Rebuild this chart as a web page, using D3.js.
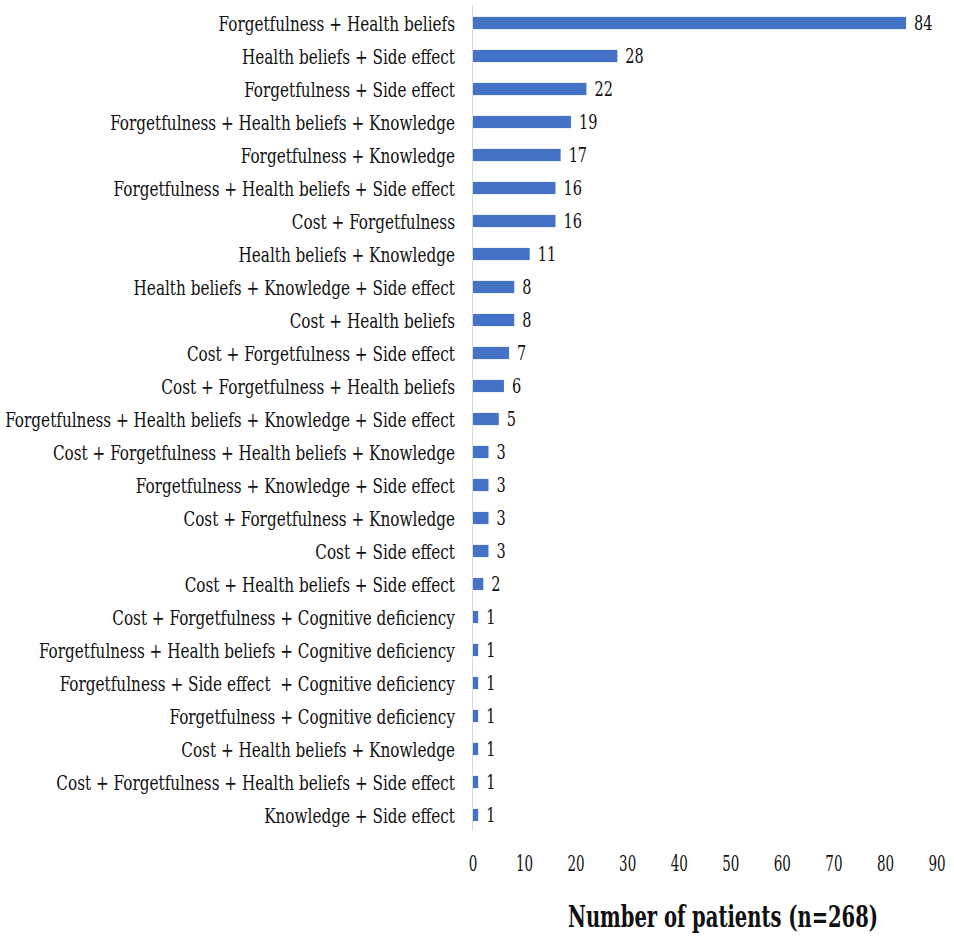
<!DOCTYPE html>
<html>
<head>
<meta charset="utf-8">
<script src="https://cdn.jsdelivr.net/npm/d3@7"></script>
<style>
  body { margin: 0; background: #fff; }
  text { font-family: "DejaVu Serif Condensed", "DejaVu Serif", serif; fill: #111; white-space: pre; }
</style>
</head>
<body>
<svg id="chart" width="954" height="939"></svg>
<script>
const categories = [
  'Forgetfulness + Health beliefs',
  'Health beliefs + Side effect',
  'Forgetfulness + Side effect',
  'Forgetfulness + Health beliefs + Knowledge',
  'Forgetfulness + Knowledge',
  'Forgetfulness + Health beliefs + Side effect',
  'Cost + Forgetfulness',
  'Health beliefs + Knowledge',
  'Health beliefs + Knowledge + Side effect',
  'Cost + Health beliefs',
  'Cost + Forgetfulness + Side effect',
  'Cost + Forgetfulness + Health beliefs',
  'Forgetfulness + Health beliefs + Knowledge + Side effect',
  'Cost + Forgetfulness + Health beliefs + Knowledge',
  'Forgetfulness + Knowledge + Side effect',
  'Cost + Forgetfulness + Knowledge',
  'Cost + Side effect',
  'Cost + Health beliefs + Side effect',
  'Cost + Forgetfulness + Cognitive deficiency',
  'Forgetfulness + Health beliefs + Cognitive deficiency',
  'Forgetfulness + Side effect  + Cognitive deficiency',
  'Forgetfulness + Cognitive deficiency',
  'Cost + Health beliefs + Knowledge',
  'Cost + Forgetfulness + Health beliefs + Side effect',
  'Knowledge + Side effect'
];
const patients = [84, 28, 22, 19, 17, 16, 16, 11, 8, 8, 7, 6, 5, 3, 3, 3, 3, 2, 1, 1, 1, 1, 1, 1, 1];
const xTicks = [0, 10, 20, 30, 40, 50, 60, 70, 80, 90];
const xTitle = 'Number of patients (n=268)';

const MARGIN = { top: 7, left: 473, right: 16 };
const PLOT_H = 824;
const svg = d3.select('#chart');
const width = 954 - MARGIN.left - MARGIN.right;

const x = d3.scaleLinear().domain([0, 90]).range([0, width - 1]);
const y = d3.scaleBand().domain(categories).range([0, PLOT_H]).paddingInner(0.63).paddingOuter(0.3);

const g = svg.append('g').attr('transform', `translate(${MARGIN.left},${MARGIN.top})`);

// squeeze a text horizontally around its own x
function squeeze(sel, k) {
  sel.each(function () {
    const t = d3.select(this);
    const x0 = +t.attr('x');
    t.attr('transform', `translate(${x0},0) scale(${k},1) translate(${-x0},0)`);
  });
}

// axis line
g.append('line')
  .attr('x1', -0.5).attr('x2', -0.5)
  .attr('y1', -2).attr('y2', PLOT_H)
  .attr('stroke', '#d9d9d9').attr('stroke-width', 1);

g.selectAll('rect.bar')
  .data(patients)
  .enter().append('rect')
  .attr('class', 'bar')
  .attr('x', 0)
  .attr('y', (d, i) => y(categories[i]))
  .attr('width', d => x(d))
  .attr('height', y.bandwidth())
  .attr('fill', '#4472c4');

// value labels
const vals = g.selectAll('text.val')
  .data(patients)
  .enter().append('text')
  .attr('class', 'val')
  .attr('x', d => x(d) + 8)
  .attr('y', (d, i) => y(categories[i]) + y.bandwidth() / 2)
  .attr('dy', '0.36em')
  .attr('font-size', 20)
  .text(d => d);

// category labels
const labels = g.append('g').attr('class', 'cats');
labels.selectAll('text')
  .data(categories)
  .enter().append('text')
  .attr('x', 0)
  .attr('y', d => y(d) + y.bandwidth() / 2)
  .attr('dy', '0.36em')
  .attr('text-anchor', 'end')
  .attr('font-size', 21)
  .text(d => d);

// fit the longest label to the reference width
let maxLen = 0;
labels.selectAll('text').each(function () { maxLen = Math.max(maxLen, this.getComputedTextLength()); });
const k = 450 / maxLen;
labels.attr('transform', `translate(-18,0) scale(${k},1)`);
squeeze(vals, k);

// x axis ticks
const ticks = g.append('g').attr('transform', `translate(0,${PLOT_H + 32})`);
const tickText = ticks.selectAll('text')
  .data(xTicks)
  .enter().append('text')
  .attr('x', d => x(d))
  .attr('dy', '0.36em')
  .attr('text-anchor', 'middle')
  .attr('font-size', 22)
  .text(d => d);
squeeze(tickText, 0.68);

// x axis title
const title = g.append('text')
  .attr('x', x(48.5))
  .attr('y', PLOT_H + 85)
  .attr('dy', '0.36em')
  .attr('text-anchor', 'middle')
  .attr('font-size', 30)
  .attr('font-weight', 'bold')
  .text(xTitle);
squeeze(title, 310 / title.node().getComputedTextLength());
</script>
</body>
</html>
